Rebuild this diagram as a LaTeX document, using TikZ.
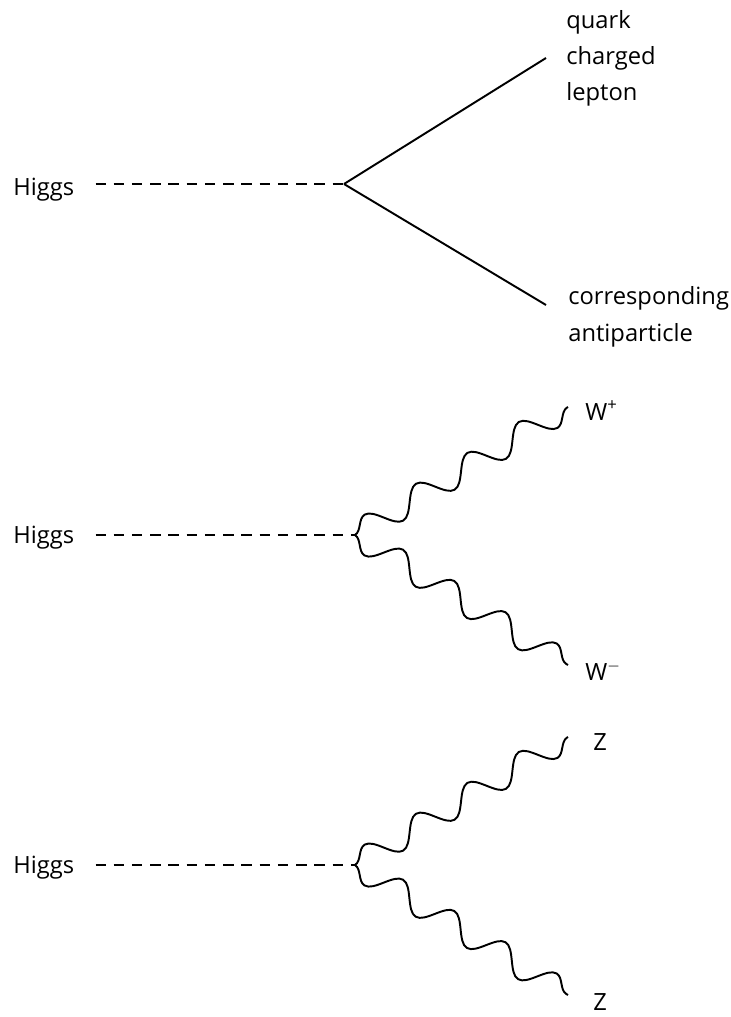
\documentclass[tikz,border=0pt]{standalone}
\usepackage{fontspec}
\setmainfont{Open Sans}
\usetikzlibrary{decorations.pathmorphing}

\tikzset{
  lbl/.style={font=\fontsize{13.5}{20.7}\selectfont, inner sep=0pt},
  scalar/.style={line width=1.1pt, dash pattern=on 0.21cm off 0.155cm, shorten <=0.42cm},
  fermion/.style={line width=1.1pt},
  boson/.style={line width=1.1pt, decorate,
    decoration={snake, amplitude=0.25cm, segment length=1.2cm}}
}

\begin{document}
\begin{tikzpicture}[x=0.02cm,y=-0.02cm]

\useasboundingbox (0,0) rectangle (730,1017);

% Fermion pair
\node[lbl, anchor=base west] (h1) at (13,195) {Higgs};
\coordinate (v1) at (344,184);
\coordinate (f1) at (546,58);
\coordinate (f2) at (546,305);

\node[lbl, anchor=base west, align=left] (ql) at (566,101)
{quark\\charged\\lepton};
\node[lbl, anchor=base west, align=left] (ap) at (568,341)
{corresponding\\antiparticle};

\draw[scalar] (h1.east |- v1) -- (v1);
\draw[fermion] (v1) -- (f1);
\draw[fermion] (v1) -- (f2);

% Gauge boson pairs
\foreach \n/\dy/\lx/\up/\dn in {
2/0/585/W\textsuperscript{+}/W\textsuperscript{$-$},
3/330/593/Z/Z
}
{
\node[lbl, anchor=base west] (h\n) at (13,543+\dy) {Higgs};
\coordinate (v\n) at (355,535+\dy);
\coordinate (e\n u) at (568,407+\dy);
\coordinate (e\n d) at (568,665+\dy);

\node[lbl, anchor=base west] (u\n) at (\lx,420+\dy) {\up};
\node[lbl, anchor=base west] (d\n) at (\lx,680+\dy) {\dn};

\draw[scalar] (h\n.east |- v\n) -- (v\n);
\draw[boson] (v\n) -- (e\n u);
\draw[boson, decoration={mirror}] (v\n) -- (e\n d);
}

\end{tikzpicture}
\end{document}
